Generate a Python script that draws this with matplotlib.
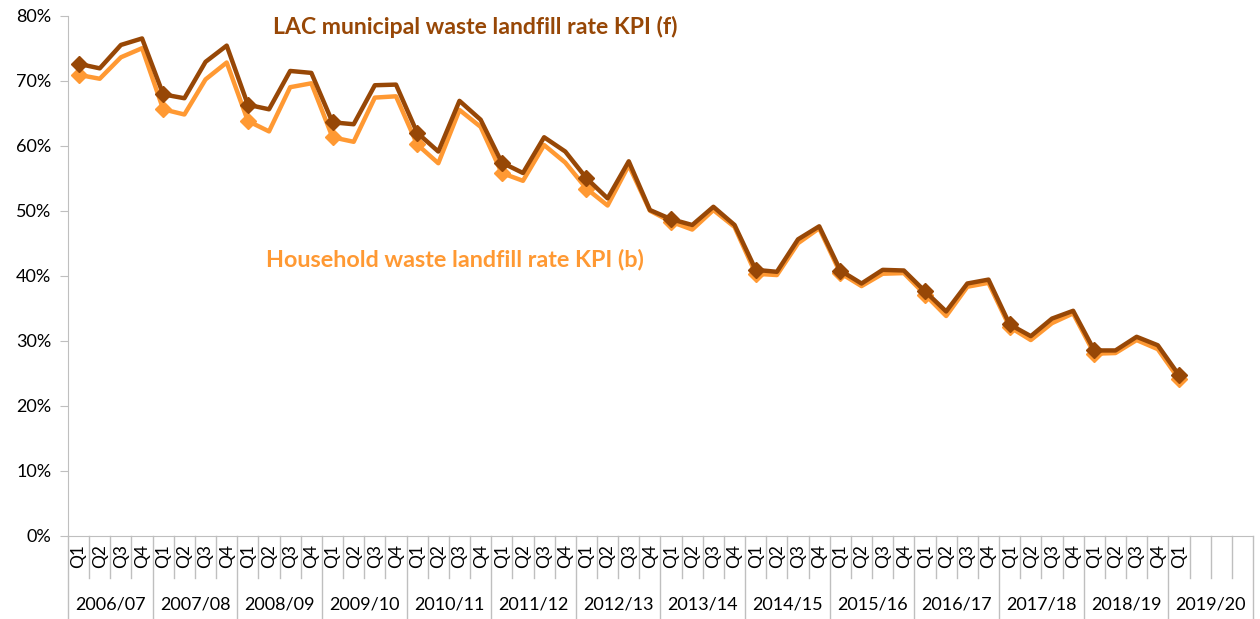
import numpy as np
import matplotlib.pyplot as plt
from matplotlib.lines import Line2D

plt.rcParams['font.family'] = ['Lato', 'DejaVu Sans']

years = ["2006/07", "2007/08", "2008/09", "2009/10", "2010/11", "2011/12", "2012/13",
         "2013/14", "2014/15", "2015/16", "2016/17", "2017/18", "2018/19", "2019/20"]
quarters = ["Q1", "Q2", "Q3", "Q4"]

# LAC municipal waste landfill rate KPI (f), % per quarter
lac_rate = [72.6, 71.9, 75.5, 76.5, 67.9, 67.3, 72.9, 75.4, 66.3, 65.6,
            71.5, 71.2, 63.6, 63.3, 69.3, 69.4, 62.0, 59.1, 66.9, 64.0,
            57.4, 55.8, 61.3, 59.1, 55.0, 51.9, 57.6, 50.1, 48.7, 47.8,
            50.6, 47.8, 40.9, 40.6, 45.6, 47.6, 40.8, 38.8, 40.9, 40.8,
            37.6, 34.5, 38.8, 39.4, 32.5, 30.7, 33.4, 34.6, 28.5, 28.5,
            30.6, 29.3, 24.7]

# Household waste landfill rate KPI (b), % per quarter
household_rate = [70.9, 70.3, 73.6, 75.0, 65.6, 64.8, 70.2, 72.8, 63.8, 62.2,
                  69.0, 69.6, 61.3, 60.6, 67.4, 67.6, 60.2, 57.3, 65.5, 62.9,
                  55.8, 54.6, 60.1, 57.4, 53.4, 50.8, 57.0, 50.0, 48.3, 47.1,
                  50.1, 47.5, 40.3, 40.1, 45.0, 47.3, 40.4, 38.4, 40.3, 40.4,
                  37.1, 33.8, 38.3, 38.9, 32.1, 30.1, 32.7, 34.2, 28.0, 28.1,
                  30.1, 28.7, 24.1]

dark = '#974706'
light = '#FF9933'
grey = '#BFBFBF'

n_slots = len(years) * 4
x = np.arange(len(lac_rate))
q1 = x[x % 4 == 0]

fig = plt.figure(figsize=(12.6, 6.19), dpi=100)
ax = fig.add_axes([68 / 1260, 1 - 535.7 / 619, (1253 - 68) / 1260, 520 / 619])

hh = np.array(household_rate) / 100
lac = np.array(lac_rate) / 100
ax.plot(x, hh, color=light, lw=3.2)
ax.plot(q1, hh[q1], ls='none', marker='D', ms=8, color=light)
ax.plot(x, lac, color=dark, lw=3.2)
ax.plot(q1, lac[q1], ls='none', marker='D', ms=8, color=dark)

ax.set_xlim(-0.5, n_slots - 0.5)
ax.set_ylim(0, 0.8)
ax.set_yticks(np.arange(0, 0.81, 0.1))
ax.set_yticklabels([f"{int(round(v * 100))}%" for v in np.arange(0, 0.81, 0.1)])
ax.tick_params(axis='y', labelsize=13, length=6, color=grey, pad=6)
ax.set_xticks([])

for s in ['top', 'right']:
    ax.spines[s].set_visible(False)
ax.spines['left'].set_color(grey)
ax.spines['bottom'].set_color(grey)

# multi-level category axis
tr = ax.get_xaxis_transform()
q_bottom = -(578 - 535.7) / 520
y_bottom = -(619 - 535.7) / 520
for i in range(n_slots + 1):
    y1 = y_bottom if i % 4 == 0 else q_bottom
    ax.add_line(Line2D([i - 0.5, i - 0.5], [0, y1], transform=tr, color=grey,
                       lw=1, clip_on=False))
for i in range(len(lac_rate)):
    ax.text(i, -(556 - 535.7) / 520, quarters[i % 4], transform=tr, rotation=90,
            ha='center', va='center', fontsize=12.5)
for k, yr in enumerate(years):
    ax.text(4 * k + 1.5, -(604 - 535.7) / 520, yr, transform=tr,
            ha='center', va='center', fontsize=13)

fig.text(475 / 1260, 1 - 27 / 619, "LAC municipal waste landfill rate KPI (f)",
         color=dark, fontsize=16.6, fontweight='bold', ha='center', va='center')
fig.text(455 / 1260, 1 - 260 / 619, "Household waste landfill rate KPI (b)",
         color=light, fontsize=16.8, fontweight='bold', ha='center', va='center')

fig.savefig('out.png', dpi=100)
